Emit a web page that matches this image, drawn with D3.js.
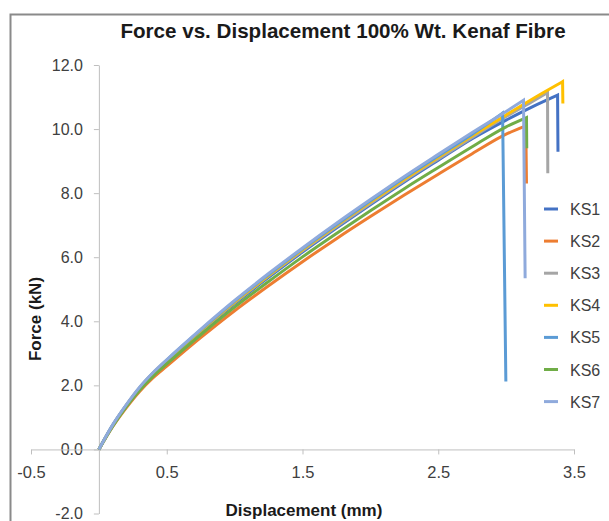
<!DOCTYPE html>
<html>
<head>
<meta charset="utf-8">
<script src="https://cdn.jsdelivr.net/npm/d3@7"></script>
<style>
  html, body { margin: 0; padding: 0; background: #fff; }
  svg { display: block; }
  text { font-family: "Liberation Sans", Arial, sans-serif; }
</style>
</head>
<body>
<svg id="chart" width="609" height="521"></svg>
<script>
// ---- data ----
const seriesNames = ["KS1", "KS2", "KS3", "KS4", "KS5", "KS6", "KS7"];
const seriesColors = ["#4472C4", "#ED7D31", "#A5A5A5", "#FFC000", "#5B9BD5", "#70AD47", "#8FAADC"];

// last point of each series is the post-failure drop
const ks1Disp  = [0, 0.1, 0.2, 0.3, 0.4, 0.5, 0.75, 1.0, 1.25, 1.5, 1.75, 2.0, 2.25, 2.5, 2.75, 3.0, 3.2, 3.379, 3.382];
const ks1Force = [0, 0.73, 1.35, 1.89, 2.34, 2.74, 3.67, 4.55, 5.37, 6.16, 6.91, 7.64, 8.35, 9.03, 9.70, 10.28, 10.71, 11.06, 9.29];

const ks2Disp  = [0, 0.1, 0.2, 0.3, 0.4, 0.5, 0.75, 1.0, 1.25, 1.5, 1.75, 2.0, 2.25, 2.5, 2.75, 3.0, 3.145, 3.150];
const ks2Force = [0, 0.70, 1.29, 1.81, 2.24, 2.60, 3.49, 4.33, 5.11, 5.86, 6.58, 7.27, 7.94, 8.59, 9.23, 9.84, 10.10, 8.30];

const ks3Disp  = [0, 0.1, 0.2, 0.3, 0.4, 0.5, 0.75, 1.0, 1.25, 1.5, 1.75, 2.0, 2.25, 2.5, 2.75, 3.0, 3.2, 3.305, 3.307];
const ks3Force = [0, 0.74, 1.36, 1.91, 2.37, 2.76, 3.69, 4.58, 5.41, 6.20, 6.95, 7.68, 8.39, 9.07, 9.74, 10.39, 10.88, 11.14, 8.62];

const ks4Disp  = [0, 0.1, 0.2, 0.3, 0.4, 0.5, 0.75, 1.0, 1.25, 1.5, 1.75, 2.0, 2.25, 2.5, 2.75, 3.0, 3.25, 3.416, 3.418];
const ks4Force = [0, 0.74, 1.37, 1.92, 2.38, 2.77, 3.71, 4.60, 5.43, 6.23, 6.99, 7.72, 8.43, 9.12, 9.79, 10.44, 11.08, 11.48, 10.80];

const ks5Disp  = [0, 0.1, 0.2, 0.3, 0.4, 0.5, 0.75, 1.0, 1.25, 1.5, 1.75, 2.0, 2.25, 2.5, 2.75, 2.974, 2.998];
const ks5Force = [0, 0.75, 1.37, 1.93, 2.39, 2.79, 3.73, 4.63, 5.46, 6.26, 7.02, 7.76, 8.48, 9.16, 9.84, 10.50, 2.12];

const ks6Disp  = [0, 0.1, 0.2, 0.3, 0.4, 0.5, 0.75, 1.0, 1.25, 1.5, 1.75, 2.0, 2.25, 2.5, 2.75, 3.0, 3.150, 3.152];
const ks6Force = [0, 0.71, 1.32, 1.85, 2.29, 2.67, 3.58, 4.44, 5.24, 6.01, 6.74, 7.45, 8.14, 8.80, 9.45, 10.07, 10.36, 9.40];

const ks7Disp  = [0, 0.1, 0.2, 0.3, 0.4, 0.5, 0.75, 1.0, 1.25, 1.5, 1.75, 2.0, 2.25, 2.5, 2.75, 3.0, 3.128, 3.140];
const ks7Force = [0, 0.75, 1.38, 1.94, 2.40, 2.80, 3.75, 4.65, 5.49, 6.29, 7.06, 7.80, 8.52, 9.21, 9.89, 10.55, 10.90, 5.34];

const xTicks = [-0.5, 0.5, 1.5, 2.5, 3.5];
const yTicks = [-2, 0, 2, 4, 6, 8, 10, 12];

const chartTitle = "Force vs. Displacement 100% Wt. Kenaf Fibre";
const xTitle = "Displacement (mm)";
const yTitle = "Force (kN)";

const allDisp  = [ks1Disp, ks2Disp, ks3Disp, ks4Disp, ks5Disp, ks6Disp, ks7Disp];
const allForce = [ks1Force, ks2Force, ks3Force, ks4Force, ks5Force, ks6Force, ks7Force];

// ---- drawing ----
const svg = d3.select("#chart");
const axisColor = "#bfbfbf";
const textColor = "#404040";
const fmt = d => d.toFixed(1);

// outer chart-area border (cropped)
svg.append("path")
  .attr("d", "M10.5,530 L10.5,14.5 L620,14.5")
  .attr("fill", "none").attr("stroke", "#8a8a8a").attr("stroke-width", 2);

const x = d3.scaleLinear().domain([-0.5, 3.5]).range([31, 574]);
const y = d3.scaleLinear().domain([-2, 12]).range([513.5, 65]);

// title
svg.append("text")
  .attr("x", 343).attr("y", 38)
  .attr("text-anchor", "middle")
  .attr("font-weight", "bold").attr("font-size", 20.6)
  .attr("fill", "#1a1a1a")
  .text(chartTitle);

// y axis (crosses at x = 0)
const yAxis = d3.axisLeft(y).tickValues(yTicks).tickSize(5).tickSizeOuter(0).tickFormat(fmt);
const gy = svg.append("g").attr("transform", `translate(${x(0)},0)`).call(yAxis);
gy.select(".domain").attr("stroke", axisColor);
gy.selectAll(".tick line").attr("stroke", axisColor);
gy.selectAll(".tick text")
  .attr("x", -16)
  .attr("font-size", 16).attr("fill", textColor)
  .attr("font-family", "Liberation Sans, Arial, sans-serif");

// x axis (crosses at y = 0)
const xAxis = d3.axisBottom(x).tickValues(xTicks).tickSize(5).tickSizeOuter(0).tickFormat(fmt);
const gx = svg.append("g").attr("transform", `translate(0,${y(0)})`).call(xAxis);
gx.select(".domain").attr("stroke", axisColor);
gx.selectAll(".tick line").attr("stroke", axisColor);
gx.selectAll(".tick text")
  .attr("y", 17)
  .attr("font-size", 16.5).attr("fill", textColor)
  .attr("font-family", "Liberation Sans, Arial, sans-serif");

// axis titles
svg.append("text")
  .attr("x", 304).attr("y", 516)
  .attr("text-anchor", "middle")
  .attr("font-weight", "bold").attr("font-size", 17)
  .attr("fill", "#1a1a1a")
  .text(xTitle);

svg.append("text")
  .attr("transform", "translate(41,319) rotate(-90)")
  .attr("text-anchor", "middle")
  .attr("font-weight", "bold").attr("font-size", 17)
  .attr("fill", "#1a1a1a")
  .text(yTitle);

// series lines: smooth rise, straight drop at failure
const rise = d3.line().x(d => x(d[0])).y(d => y(d[1])).curve(d3.curveMonotoneX);
seriesNames.forEach((name, i) => {
  const pts = allDisp[i].map((d, j) => [d, allForce[i][j]]);
  const up = pts.slice(0, pts.length - 1);
  const drop = pts[pts.length - 1];
  const dPath = rise(up) + `L${x(drop[0])},${y(drop[1])}`;
  svg.append("path")
    .attr("d", dPath)
    .attr("fill", "none")
    .attr("stroke", seriesColors[i])
    .attr("stroke-width", 3)
    .attr("stroke-linejoin", "miter");
});

// legend
const legend = svg.append("g");
seriesNames.forEach((name, i) => {
  const ly = 209 + i * 32.1;
  legend.append("line")
    .attr("x1", 544).attr("x2", 558).attr("y1", ly).attr("y2", ly)
    .attr("stroke", seriesColors[i]).attr("stroke-width", 3);
  legend.append("text")
    .attr("x", 570).attr("y", ly + 6)
    .attr("font-size", 16).attr("fill", textColor)
    .text(name);
});
</script>
</body>
</html>
